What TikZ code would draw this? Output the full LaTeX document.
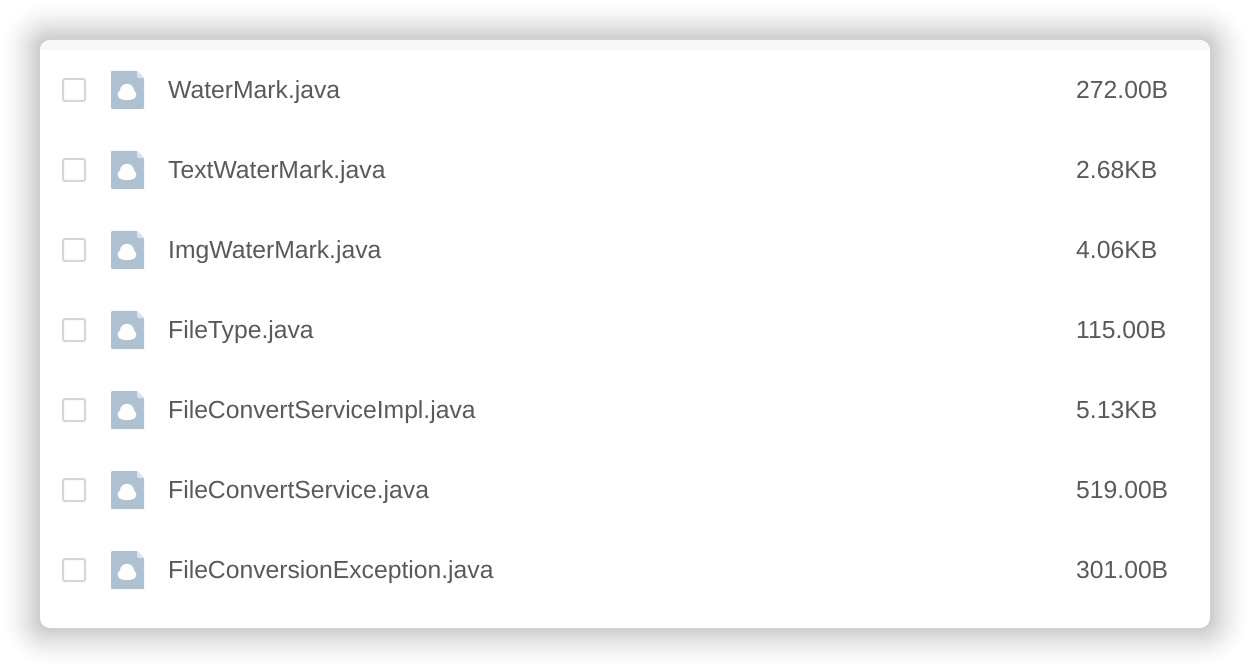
\documentclass[tikz,border=0pt]{standalone}
\usepackage{fontspec}
\setmainfont{Liberation Sans}
\definecolor{txt}{HTML}{5A5A5A}
\definecolor{icon}{HTML}{AEC1D3}
\definecolor{fold}{HTML}{DCE5ED}
\definecolor{boxline}{HTML}{D6D6D6}
\definecolor{strip}{HTML}{F8F8F8}
\tikzset{
  label text/.style={anchor=west,inner sep=0pt,text=txt,font=\fontsize{24.7}{28}\selectfont,text height=19.5pt,text depth=2.5pt},
  check box/.style={draw=boxline,line width=2pt,fill=white,rounded corners=2pt,minimum size=22pt,inner sep=0pt},
}
\newcommand{\fileicon}[1]{%
  \begin{scope}[shift={(0,#1)}]
    \fill[icon,rounded corners=1pt] (111,-19) -- (137,-19) -- (144,-12) -- (144,19) -- (111,19) -- cycle;
    \fill[fold] (137,-19) -- (144,-12) -- (138.5,-12) .. controls (137.5,-12) and (137,-12.5) .. (137,-13.5) -- cycle;
    \fill[white] (122.6,4.6) circle[radius=5];
    \fill[white] (131.4,4.6) circle[radius=5];
    \fill[white] (127,0.8) circle[radius=7];
    \fill[white] (122.6,3) rectangle (131.4,9.6);
  \end{scope}}
\begin{document}
\begin{tikzpicture}[x=1pt,y=-1pt]
\useasboundingbox (0,0) rectangle (1250,668);
\fill[white] (0,0) rectangle (1250,668);
% soft shadow, opaque layers from the outside in
\foreach \d in {40,39,...,0}{
  \pgfmathsetmacro{\p}{20*(1-\d/40)^1.6}
  \pgfmathsetmacro{\rr}{10+\d}
  \fill[black!\p!white,rounded corners=\rr pt]
    (40-\d,40-\d) rectangle (1210+\d,628+\d);
}
% card
\fill[white,rounded corners=10pt] (40,40) rectangle (1210,628);
\begin{scope}
  \clip[rounded corners=10pt] (40,40) rectangle (1210,628);
  \fill[strip] (40,40) rectangle (1210,50);
\end{scope}
% rows
\foreach \y/\n/\s [count=\i] in {
  90/WaterMark.java/272.00B,
  170/TextWaterMark.java/2.68KB,
  250/ImgWaterMark.java/4.06KB,
  330/FileType.java/115.00B,
  410/FileConvertServiceImpl.java/5.13KB,
  490/FileConvertService.java/519.00B,
  570/FileConversionException.java/301.00B}{
  \node[check box] (check\i) at (74,\y) {};
  \fileicon{\y}
  \node[label text] (name\i) at (168,\y) {\n};
  \node[label text] (size\i) at (1076,\y) {\s};
}
\end{tikzpicture}
\end{document}
